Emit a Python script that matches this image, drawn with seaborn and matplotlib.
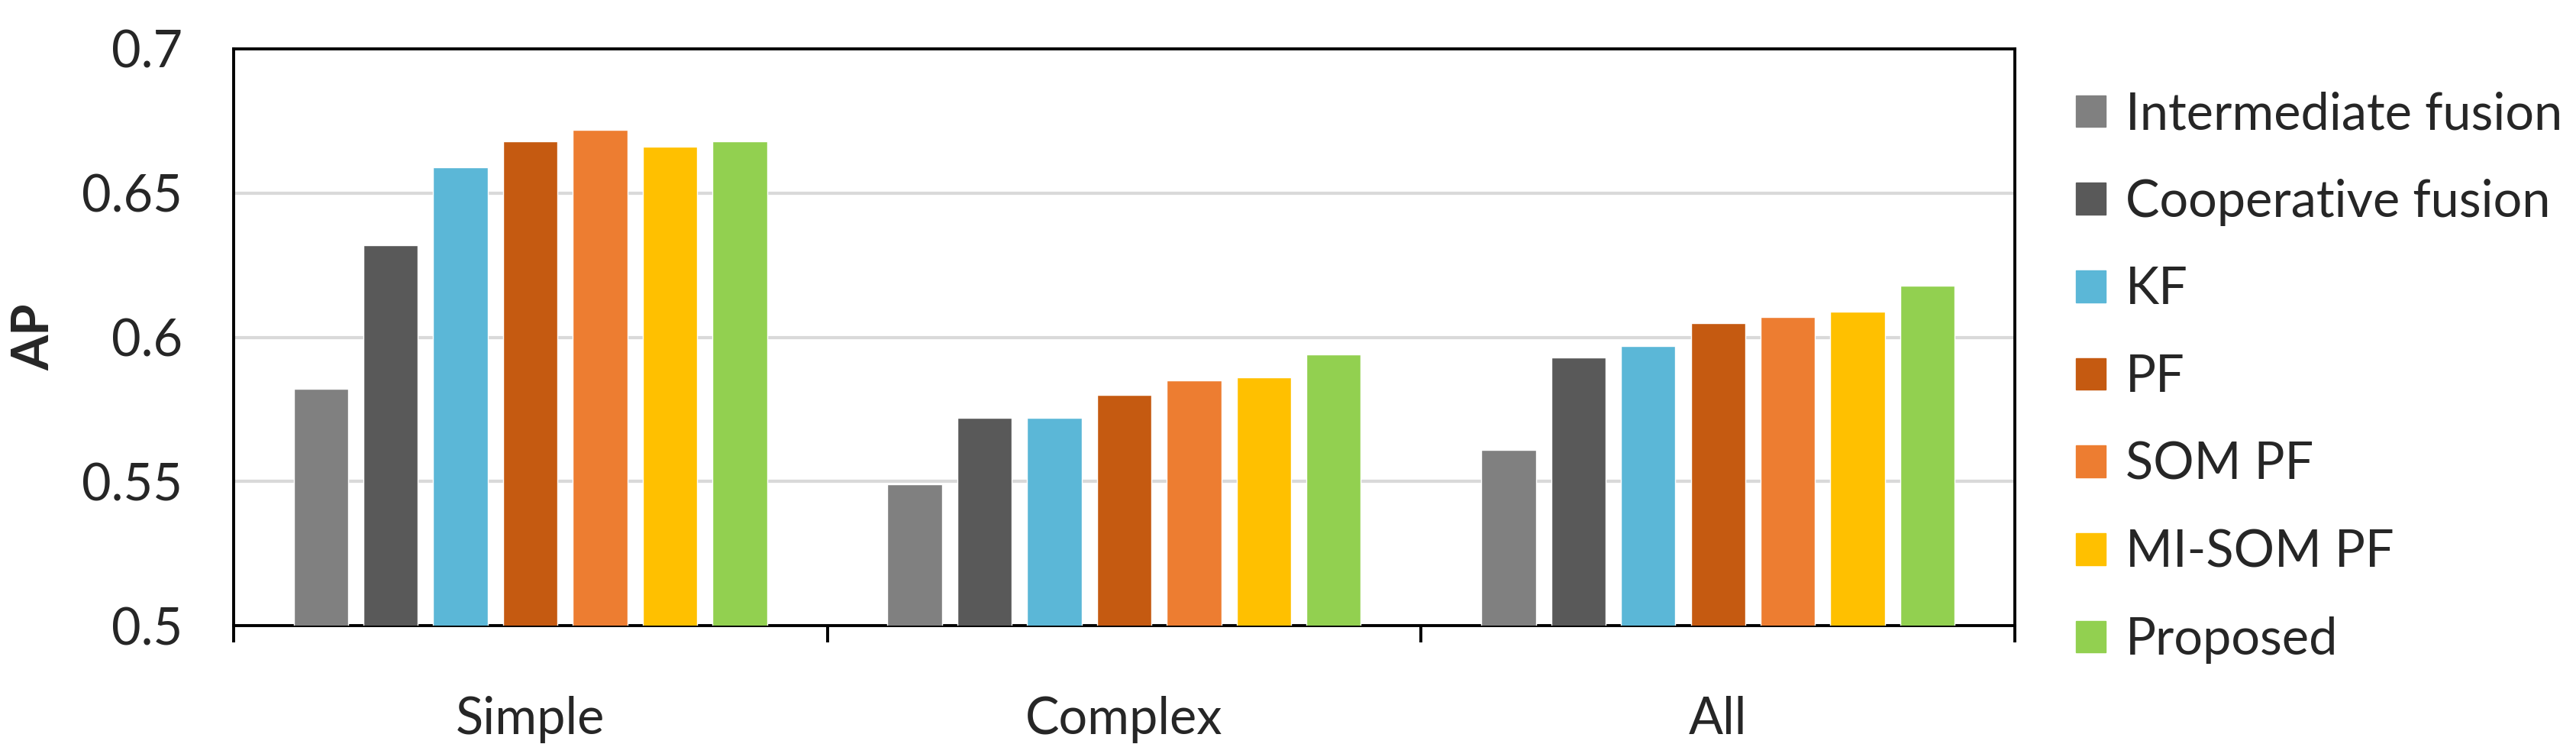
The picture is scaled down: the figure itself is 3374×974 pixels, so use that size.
import numpy as np
import pandas as pd
import seaborn as sns
import matplotlib.pyplot as plt
from matplotlib.ticker import FuncFormatter, FixedLocator

# data
scenarios = ["Simple", "Complex", "All"]
methods = ["Intermediate fusion", "Cooperative fusion", "KF", "PF",
           "SOM PF", "MI-SOM PF", "Proposed"]
colors = ["#808080", "#595959", "#5BB7D7", "#C55A11",
          "#ED7D31", "#FFC000", "#92D050"]

intermediate = [0.582, 0.549, 0.561]
cooperative = [0.632, 0.572, 0.593]
kf = [0.659, 0.572, 0.597]
pf = [0.668, 0.580, 0.605]
som_pf = [0.672, 0.585, 0.607]
mi_som_pf = [0.666, 0.586, 0.609]
proposed = [0.668, 0.594, 0.618]

series = [intermediate, cooperative, kf, pf, som_pf, mi_som_pf, proposed]
rows = []
for m, vals in zip(methods, series):
    for s, v in zip(scenarios, vals):
        rows.append({"scenario": s, "method": m, "AP": v})
df = pd.DataFrame(rows)

sns.set_style("white")
plt.rcParams["font.family"] = ["Lato", "DejaVu Sans"]

fig = plt.figure(figsize=(33.74, 9.74), dpi=100)
ax = fig.add_axes([0.0906, 0.1591, 0.7822 - 0.0906, 0.9343 - 0.1591])

sns.barplot(data=df, x="scenario", y="AP", hue="method", order=scenarios,
            hue_order=methods, palette=colors, width=0.823, gap=0.22,
            saturation=1, ax=ax, zorder=3)

ax.set_ylim(0.5, 0.7)
ax.set_xlim(-0.5, 2.5)
ax.set_yticks([0.5, 0.55, 0.6, 0.65, 0.7])
ax.yaxis.set_major_formatter(FuncFormatter(lambda v, p: f"{v:g}"))
ax.grid(axis="y", color="#D9D9D9", linewidth=3, zorder=0)
ax.set_axisbelow(True)

for sp in ax.spines.values():
    sp.set_color("black")
    sp.set_linewidth(2.8)
    sp.set_visible(True)

ax.tick_params(axis="y", length=0, pad=48, labelsize=48)
ax.tick_params(axis="x", which="major", length=0, pad=66, labelsize=48)
ax.xaxis.set_minor_locator(FixedLocator([-0.5, 0.5, 1.5, 2.5]))
ax.tick_params(axis="x", which="minor", length=16, width=2.8,
               direction="out", color="black", bottom=True)

ax.set_xlabel("")
ax.set_ylabel("AP", fontsize=48, fontweight="bold", labelpad=22)

ax.legend_.remove()
handles = [plt.Rectangle((0, 0), 1, 1, color=c) for c in colors]
fig.legend(handles, methods, loc="center left",
           bbox_to_anchor=(2719 / 3374, 1 - 494 / 974), frameon=False,
           fontsize=48, handlelength=0.59, handleheight=0.59,
           handletextpad=0.38, labelspacing=0.79, borderpad=0,
           borderaxespad=0)

fig.savefig("out.png", dpi=100)
